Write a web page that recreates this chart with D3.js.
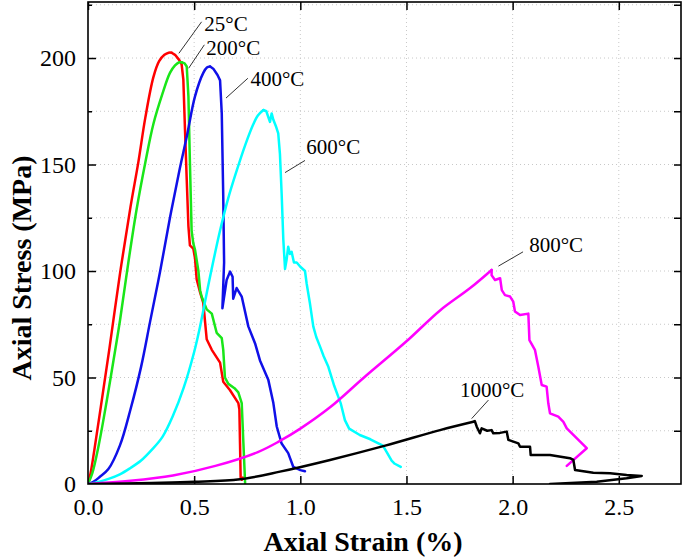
<!DOCTYPE html>
<html><head><meta charset="utf-8">
<script src="https://cdn.jsdelivr.net/npm/d3@7"></script>
<style>body{margin:0;background:#fff}svg{display:block}</style>
</head><body><svg id="c" width="685" height="560"></svg>
<script>
const xTicks = [0, 0.5, 1.0, 1.5, 2.0, 2.5];
const yTicks = [0, 50, 100, 150, 200];
const yGrid = [25, 50, 75, 100, 125, 150, 175, 200, 225];
const seriesNames = ["25°C", "200°C", "400°C", "600°C", "800°C", "1000°C"];
const seriesColors = ["#ff0000", "#19e619", "#1010e8", "#00ffff", "#ff00ff", "#000000"];

// pre-peak (smooth) and post-peak (jagged) parts of each curve: [strain %, stress MPa]
const rise25 = [[0,0],[0.012,5],[0.03,16],[0.06,36],[0.1,63],[0.151,99],[0.2,130],[0.237,151],[0.27,172],[0.308,191],[0.335,198.5],[0.36,201.5],[0.38,202.5],[0.394,202.5]];
const fall25 = [[0.394,202.5],[0.41,201.5],[0.43,199],[0.441,197],[0.449,190],[0.457,166],[0.465,143],[0.473,121],[0.48,112],[0.496,110.5],[0.504,106],[0.512,96],[0.528,90],[0.543,85],[0.559,68],[0.583,63],[0.622,57],[0.637,48],[0.669,44],[0.708,38],[0.713,35],[0.716,19],[0.719,3],[0.725,2],[0.73,3]];
const rise200 = [[0,0],[0.02,5],[0.05,18],[0.09,40],[0.12,58],[0.151,77],[0.19,104],[0.229,129],[0.27,151],[0.308,169],[0.35,183],[0.386,193],[0.41,196.5],[0.43,198],[0.441,198]];
const fall200 = [[0.441,198],[0.455,197.5],[0.465,196],[0.473,182],[0.48,151],[0.488,119],[0.496,113],[0.504,110],[0.52,100],[0.528,91],[0.535,88],[0.559,82],[0.583,80],[0.606,71],[0.63,68.5],[0.637,63],[0.645,50],[0.661,47],[0.69,45],[0.708,43],[0.724,38],[0.732,19],[0.74,0.5]];
const rise400 = [[0,0],[0.025,1],[0.056,3.4],[0.096,7],[0.15,18],[0.2,35],[0.25,55],[0.292,76],[0.34,100],[0.386,125],[0.43,147],[0.465,163],[0.504,182],[0.543,193],[0.56,195.5],[0.575,196]];
const fall400 = [[0.575,196],[0.59,195],[0.61,192],[0.622,189.5],[0.63,174],[0.637,135],[0.641,104],[0.633,82.5],[0.653,95.8],[0.669,99.7],[0.681,97.3],[0.684,87],[0.7,92],[0.724,88],[0.755,74],[0.787,66],[0.81,58],[0.849,49],[0.873,38],[0.889,27],[0.912,19],[0.943,14.5],[0.967,8],[1.0,6.5],[1.022,6]];
const rise600 = [[0,0],[0.05,1],[0.1,2.5],[0.15,4.5],[0.2,7.5],[0.25,11],[0.3,16],[0.35,22],[0.4,32],[0.45,45],[0.5,62],[0.528,74],[0.57,95],[0.622,119],[0.66,134],[0.7,147],[0.74,159],[0.779,169],[0.8,173],[0.826,175.6]];
const fall600 = [[0.826,175.6],[0.84,175],[0.85,172],[0.857,170],[0.865,174],[0.873,171],[0.885,168],[0.896,164.6],[0.904,155],[0.912,136.5],[0.92,114.6],[0.928,101],[0.935,105],[0.943,111.4],[0.951,108],[0.959,109],[0.97,104],[0.983,104],[1.0,102],[1.022,100],[1.03,94],[1.045,85],[1.061,74],[1.075,69],[1.093,64.5],[1.11,60],[1.132,55],[1.16,46],[1.19,38],[1.21,30],[1.23,26],[1.28,23],[1.33,21],[1.37,19],[1.389,18],[1.407,15],[1.43,11],[1.445,9.5],[1.473,8]];
const rise800 = [[0,0],[0.2,1.5],[0.4,4],[0.6,8.5],[0.8,15],[0.9,20],[1.0,26],[1.14,36],[1.3,50],[1.5,67],[1.658,81.5],[1.8,92],[1.901,100.5]];
const fall800 = [[1.901,100.5],[1.901,98],[1.917,95.8],[1.941,96.6],[1.949,91],[1.964,88.7],[1.988,88],[2.003,85.6],[2.011,81],[2.035,79.3],[2.074,80],[2.079,67.6],[2.105,63],[2.121,55],[2.137,46.5],[2.16,45.7],[2.168,37.9],[2.176,33.2],[2.215,31.6],[2.239,29.2],[2.255,26.1],[2.349,16.8],[2.255,8.5]];
const rise1000 = [[0,0],[0.3,0.5],[0.5,1],[0.716,2.2],[0.904,5.8],[1.14,11.3],[1.4,18],[1.658,25.3],[1.815,29.2]];
const fall1000 = [[1.815,29.2],[1.822,29.5],[1.831,26.9],[1.846,23.8],[1.854,26.1],[1.88,25],[1.901,25.3],[1.909,23.8],[1.94,24],[1.972,24.6],[1.98,20.7],[2.027,19.1],[2.035,17.5],[2.082,17.5],[2.085,13.6],[2.176,13.6],[2.27,12.1],[2.286,11.3],[2.294,6.6],[2.38,5.3],[2.459,5],[2.537,4.2],[2.608,3.8],[2.537,2.7],[2.396,1.1],[2.176,0]];
const riseData = [rise25, rise200, rise400, rise600, rise800, rise1000];
const fallData = [fall25, fall200, fall400, fall600, fall800, fall1000];

// label text positions and leader line ends (data units)
const labelPos = [[0.548,212.5],[0.557,201.5],[0.765,187],[1.028,155],[2.078,109],[1.752,41]];
const leaderFrom = [[0.535,217],[0.548,206.2],[0.753,190.5],[1.022,151.9],[2.049,109],[1.886,39.4]];
const leaderTo = [[0.428,202.2],[0.474,195.2],[0.650,181.2],[0.928,146.2],[1.933,102.3],[1.807,30.7]];

const m = {l: 88, t: 2, r: 681, b: 484};
const x = d3.scaleLinear().domain([0, 2.793]).range([m.l, m.r]);
const y = d3.scaleLinear().domain([0, 226.3]).range([m.b, m.t]);
const svg = d3.select("#c");
const font = "'Liberation Serif','Times New Roman',serif";

// grid
svg.append("g").selectAll("line").data(xTicks.slice(1)).join("line")
  .attr("x1", d => x(d)).attr("x2", d => x(d)).attr("y1", m.t).attr("y2", m.b)
  .attr("stroke", "#c8c8c8").attr("stroke-width", 1).attr("stroke-dasharray", "1,3");
svg.append("g").selectAll("line").data(yGrid).join("line")
  .attr("x1", m.l).attr("x2", m.r).attr("y1", d => y(d)).attr("y2", d => y(d))
  .attr("stroke", "#c8c8c8").attr("stroke-width", 1).attr("stroke-dasharray", "1,3");

// curves
svg.append("clipPath").attr("id", "pc").append("rect")
  .attr("x", m.l).attr("y", m.t).attr("width", m.r - m.l).attr("height", m.b - m.t);
const smooth = d3.line().x(d => x(d[0])).y(d => y(d[1])).curve(d3.curveCatmullRom.alpha(0.5));
const jag = d3.line().x(d => x(d[0])).y(d => y(d[1]));
const cg = svg.append("g").attr("clip-path", "url(#pc)");
riseData.forEach((d, i) => {
  cg.append("path").datum(d).attr("d", smooth).attr("fill", "none")
    .attr("stroke", seriesColors[i]).attr("stroke-width", 2.5).attr("stroke-linejoin", "round").attr("stroke-linecap", "round");
  cg.append("path").datum(fallData[i]).attr("d", jag).attr("fill", "none")
    .attr("stroke", seriesColors[i]).attr("stroke-width", 2.5).attr("stroke-linejoin", "round").attr("stroke-linecap", "round");
});

// axes (ticks inward)
const gx = svg.append("g").attr("transform", `translate(0,${m.b})`)
  .call(d3.axisBottom(x).tickValues(xTicks).tickSize(-8).tickPadding(14).tickFormat(d3.format(".1f")));
const gxt = svg.append("g").attr("transform", `translate(0,${m.t})`)
  .call(d3.axisTop(x).tickValues(xTicks).tickSize(-8).tickFormat(""));
const gy = svg.append("g").attr("transform", `translate(${m.l},0)`)
  .call(d3.axisLeft(y).tickValues(yTicks).tickSize(-8).tickPadding(12).tickFormat(d3.format("d")));
const gym = svg.append("g").attr("transform", `translate(${m.l},0)`)
  .call(d3.axisLeft(y).tickValues([25,75,125,175,225]).tickSize(-4).tickFormat(""));
const gyr = svg.append("g").attr("transform", `translate(${m.r},0)`)
  .call(d3.axisRight(y).tickValues([25,50,75,100,125,150,175,200,225]).tickSize(-7).tickFormat(""));
[gx, gxt, gy, gym, gyr].forEach(g => {
  g.select(".domain").remove();
  g.selectAll(".tick line").attr("stroke", "#000").attr("stroke-width", 1.5);
  g.selectAll("text").attr("font-family", font).attr("font-size", 24).attr("fill", "#000");
});
gx.selectAll(".tick").filter(d => d === 0).select("line").remove();
gy.selectAll(".tick").filter(d => d === 0).select("line").remove();

svg.append("rect").attr("x", m.l).attr("y", m.t).attr("width", m.r - m.l).attr("height", m.b - m.t)
  .attr("fill", "none").attr("stroke", "#000").attr("stroke-width", 1.6);

// labels with leader lines
svg.append("g").selectAll("line").data(leaderFrom).join("line")
  .attr("x1", d => x(d[0])).attr("y1", d => y(d[1]))
  .attr("x2", (d, i) => x(leaderTo[i][0])).attr("y2", (d, i) => y(leaderTo[i][1]))
  .attr("stroke", "#333").attr("stroke-width", 1);
svg.append("g").selectAll("text").data(labelPos).join("text")
  .attr("x", d => x(d[0])).attr("y", d => y(d[1]))
  .attr("font-family", font).attr("font-size", 21).attr("fill", "#000")
  .text((d, i) => seriesNames[i]);

// axis titles
svg.append("text").attr("x", 363).attr("y", 551).attr("text-anchor", "middle")
  .attr("font-family", font).attr("font-size", 28).attr("font-weight", "bold").text("Axial Strain (%)");
svg.append("text").attr("transform", "translate(31,268) rotate(-90)").attr("text-anchor", "middle")
  .attr("font-family", font).attr("font-size", 28).attr("font-weight", "bold").text("Axial Stress (MPa)");
</script></body></html>
